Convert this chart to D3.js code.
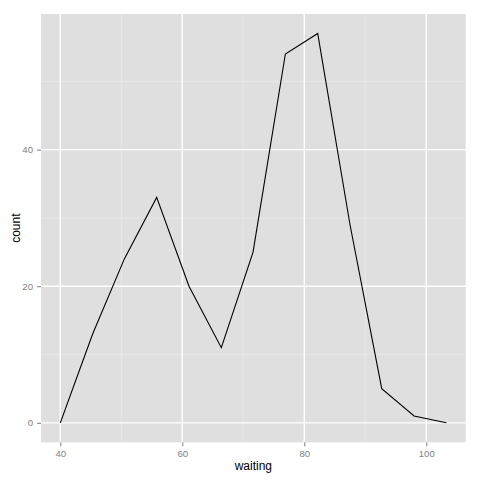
<!DOCTYPE html>
<html><head><meta charset="utf-8">
<script src="https://cdn.jsdelivr.net/npm/d3@7"></script>
<style>body{margin:0;background:#fff}svg{display:block}text{font-family:"Liberation Sans",Arial,sans-serif}</style>
</head><body><svg id="c" width="480" height="480"></svg>
<script>
const waiting = [40.0, 45.3, 50.5, 55.8, 61.1, 66.4, 71.6, 76.9, 82.2, 87.5, 92.7, 98.0, 103.3];
const counts  = [0, 13, 24, 33, 20, 11, 25, 54, 57, 29, 5, 1, 0];
const xTicks = [40, 60, 80, 100];
const xMinor = [50, 70, 90];
const yTicks = [0, 20, 40];
const yMinor = [10, 30, 50];

const svg = d3.select("#c");
const L = 41, R = 465.7, T = 14, B = 442.3;
const xe = d3.extent(waiting), xp = (xe[1]-xe[0])*0.05;
const ye = d3.extent(counts), yp = (ye[1]-ye[0])*0.05;
const x = d3.scaleLinear().domain([xe[0]-xp, xe[1]+xp]).range([L, R]);
const y = d3.scaleLinear().domain([ye[0]-yp, ye[1]+yp]).range([B, T]);

svg.append("rect").attr("x", L).attr("y", T).attr("width", R-L).attr("height", B-T).attr("fill", "#DFDFDF");
const g = svg.append("g");
g.selectAll(".xm").data(xMinor).join("line").attr("x1", d=>x(d)).attr("x2", d=>x(d)).attr("y1", T).attr("y2", B).attr("stroke", "#EBEBEB").attr("stroke-width", 0.7);
g.selectAll(".ym").data(yMinor).join("line").attr("y1", d=>y(d)).attr("y2", d=>y(d)).attr("x1", L).attr("x2", R).attr("stroke", "#EBEBEB").attr("stroke-width", 0.7);
g.selectAll(".xM").data(xTicks).join("line").attr("x1", d=>x(d)).attr("x2", d=>x(d)).attr("y1", T).attr("y2", B).attr("stroke", "#fff").attr("stroke-width", 1.4);
g.selectAll(".yM").data(yTicks).join("line").attr("y1", d=>y(d)).attr("y2", d=>y(d)).attr("x1", L).attr("x2", R).attr("stroke", "#fff").attr("stroke-width", 1.4);

const line = d3.line().x((d,i)=>x(waiting[i])).y(d=>y(d));
svg.append("path").datum(counts).attr("d", line).attr("fill", "none").attr("stroke", "#000").attr("stroke-width", 1.1);

const xa = svg.append("g").attr("transform", `translate(0,${B})`).call(d3.axisBottom(x).tickValues(xTicks).tickSize(4).tickPadding(4));
const ya = svg.append("g").attr("transform", `translate(${L},0)`).call(d3.axisLeft(y).tickValues(yTicks).tickSize(4).tickPadding(4));
[xa, ya].forEach(a => {
  a.select(".domain").remove();
  a.selectAll(".tick line").attr("stroke", "#7F7F7F");
  a.selectAll(".tick text").attr("fill", "#7F7F7F").style("font-size", "9.6px");
});

svg.append("text").attr("x", (L+R)/2).attr("y", 469.5).attr("text-anchor", "middle").style("font-size", "12px").text("waiting");
svg.append("text").attr("transform", `translate(20,${(T+B)/2}) rotate(-90)`).attr("text-anchor", "middle").style("font-size", "12px").text("count");
</script></body></html>
